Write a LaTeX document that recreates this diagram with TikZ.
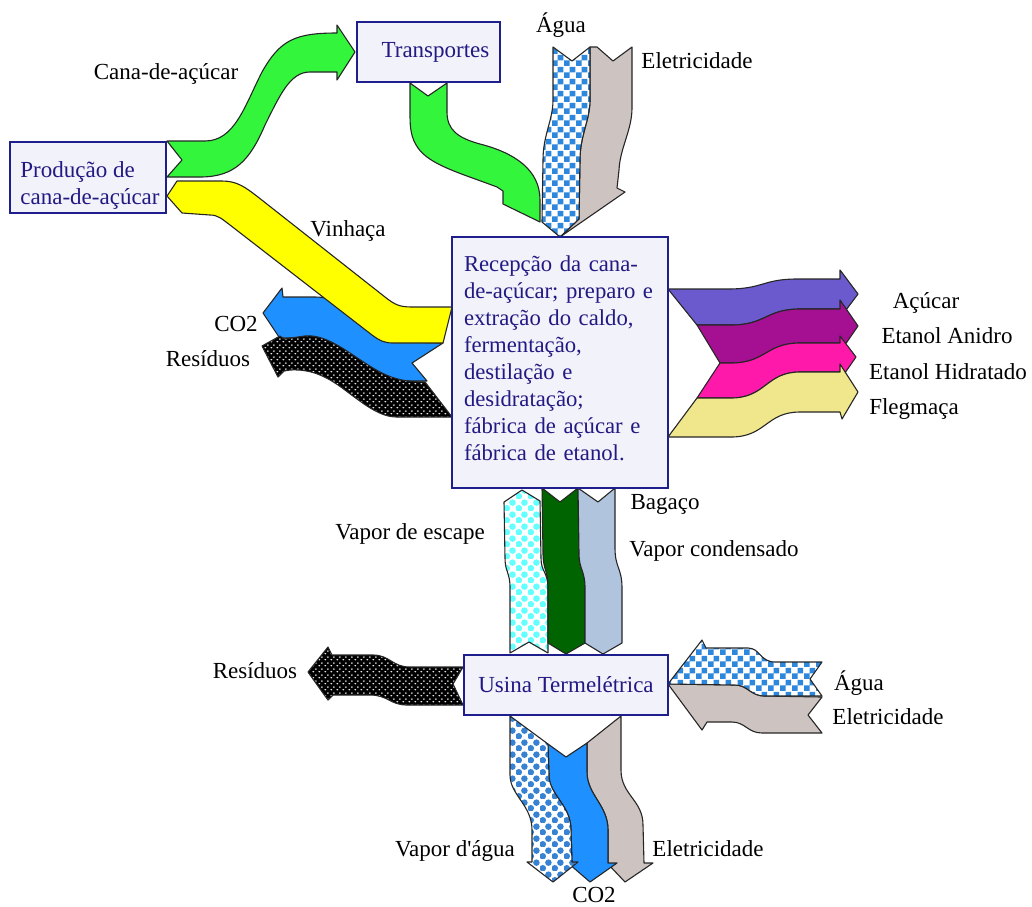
\documentclass[tikz,border=0pt]{standalone}
\usepackage{fontspec}
\setmainfont{Liberation Serif}
\usetikzlibrary{patterns}

\definecolor{boxfill}{RGB}{242,242,250}
\definecolor{boxline}{RGB}{30,30,140}
\definecolor{boxtext}{RGB}{35,25,130}
\definecolor{cane}{RGB}{50,245,60}
\definecolor{vinasse}{RGB}{255,255,0}
\definecolor{cotwo}{RGB}{30,144,255}
\definecolor{sugar}{RGB}{106,90,205}
\definecolor{anhyd}{RGB}{165,15,145}
\definecolor{hydra}{RGB}{255,25,170}
\definecolor{phleg}{RGB}{240,230,140}
\definecolor{bagasse}{RGB}{0,100,0}
\definecolor{condens}{RGB}{176,196,222}
\definecolor{power}{RGB}{205,196,194}
\definecolor{waterblue}{RGB}{45,135,220}
\definecolor{steamcyan}{RGB}{100,255,255}
\definecolor{vapourblue}{RGB}{55,130,210}

% fill patterns for the textured flows
\pgfdeclarepatternformonly{bigchecker}{\pgfqpoint{0pt}{0pt}}{\pgfqpoint{12pt}{12pt}}{\pgfqpoint{12pt}{12pt}}{%
  \pgfpathrectangle{\pgfqpoint{0pt}{0pt}}{\pgfqpoint{6pt}{6pt}}%
  \pgfpathrectangle{\pgfqpoint{6pt}{6pt}}{\pgfqpoint{6pt}{6pt}}%
  \pgfusepath{fill}}
\pgfdeclarepatternformonly{bubbles}{\pgfqpoint{0pt}{0pt}}{\pgfqpoint{12pt}{12pt}}{\pgfqpoint{12pt}{12pt}}{%
  \pgfpathcircle{\pgfqpoint{3pt}{3pt}}{3.5pt}%
  \pgfpathcircle{\pgfqpoint{9pt}{9pt}}{3.5pt}%
  \pgfusepath{fill}}
\pgfdeclarepatternformonly{finedots}{\pgfqpoint{0pt}{0pt}}{\pgfqpoint{6pt}{6pt}}{\pgfqpoint{6pt}{6pt}}{%
  \pgfpathellipse{\pgfqpoint{1.5pt}{1.5pt}}{\pgfqpoint{1.2pt}{0pt}}{\pgfqpoint{0pt}{0.8pt}}%
  \pgfpathellipse{\pgfqpoint{4.5pt}{4.5pt}}{\pgfqpoint{1.2pt}{0pt}}{\pgfqpoint{0pt}{0.8pt}}%
  \pgfusepath{fill}}

\begin{document}
\begin{tikzpicture}[x=1pt,y=-1pt,
  every node/.style={font=\fontsize{23pt}{27pt}\selectfont},
  band/.style={draw=black!85, line width=1.1pt, line join=round},
  water/.style={band, preaction={fill=white}, pattern=bigchecker, pattern color=waterblue},
  steamfill/.style={band, preaction={fill=white}, pattern=bubbles, pattern color=steamcyan},
  vapourfill/.style={band, preaction={fill=white}, pattern=bubbles, pattern color=vapourblue},
  dotsfill/.style={band, preaction={fill=black}, pattern=finedots, pattern color=white},
  box/.style={draw=boxline, line width=1.6pt, fill=boxfill, text=boxtext, inner sep=0pt},
  boxtxt/.style={text=boxtext, inner sep=0pt, align=left},
  lbl/.style={anchor=base, inner sep=0pt, text=black}]
\useasboundingbox (0,0) rectangle (1032,906);

% ---- cane to transport
\draw[band, fill=cane] (167,141) -- (205,141) .. controls (235,141) and (245,105) .. (262,72)
  .. controls (280,40) and (295,33) .. (337,33) -- (337,25) -- (355,52) -- (337,80) -- (337,72)
  -- (310,72) .. controls (290,72) and (280,95) .. (265,125) .. controls (250,160) and (235,177) .. (200,177)
  -- (167,177) -- (182,160) -- cycle;

% ---- transport to reception
\draw[band, fill=cane] (410,83) -- (428,96) -- (447,83) -- (447,112) .. controls (447,130) and (458,138) .. (480,144)
  .. controls (515,153) and (540,170) .. (540,200) -- (540,222) -- (503,204) -- (503,191) -- (497,187)
  .. controls (460,173) and (430,165) .. (418,148) .. controls (411,138) and (410,128) .. (410,115) -- cycle;

% ---- water and electricity into reception
\draw[band, fill=power] (590,47) -- (597,47) -- (613,61) -- (632,47) -- (632,108) .. controls (632,130) and (620,148) .. (619,170)
  -- (617,188) -- (625,192) -- (560,237) -- (579,219) -- (580,160) .. controls (580,135) and (590,120) .. (590,100) -- cycle;
\draw[water] (553,47) -- (572,61) -- (590,47) -- (590,100) .. controls (590,120) and (580,135) .. (580,160)
  -- (579,219) -- (560,237) -- (542,222) -- (543,160) .. controls (543,135) and (553,120) .. (553,100) -- cycle;

% ---- CO2 and residues leaving on the left
\draw[band, fill=cotwo] (263,313) -- (282,288) -- (283,297) -- (315,297) .. controls (340,297) and (360,312) .. (385,330)
  .. controls (400,340) and (410,343) .. (443,343) -- (412,363) -- (427,381) -- (397,381)
  .. controls (380,381) and (362,366) .. (345,354) .. controls (325,341) and (312,338) .. (295,338) -- (283,338) -- (281,340) -- cycle;
\draw[dotsfill] (262,346) -- (280,336) -- (284,339) -- (305,336) .. controls (325,334) and (345,350) .. (365,363)
  .. controls (385,376) and (398,382) .. (425,382) -- (452,417) -- (397,417) .. controls (380,417) and (365,405) .. (345,390)
  .. controls (325,375) and (310,369) .. (290,370) -- (284,371) -- (278,377) -- cycle;

% ---- vinasse back to the fields
\draw[band, fill=vinasse] (167,196) -- (177,181) -- (222,181) .. controls (237,181) and (245,187) .. (258,197)
  -- (385,297) .. controls (395,305) and (400,307) .. (412,307) -- (452,307) -- (443,343) -- (393,343)
  .. controls (385,343) and (380,341) .. (372,335) -- (230,225) .. controls (222,219) and (218,215) .. (210,215)
  -- (182,213) -- cycle;

% ---- products on the right
\draw[band, fill=sugar] (668,289) -- (728,289) .. controls (763,289) and (763,279) .. (797,279) -- (840,279) -- (840,270)
  -- (858,294) -- (840,318) -- (840,309) -- (800,309) .. controls (766,309) and (766,325) .. (731,325) -- (697,325) -- cycle;
\draw[band, fill=anhyd] (697,325) -- (731,325) .. controls (766,325) and (766,309) .. (800,309) -- (840,309) -- (840,300)
  -- (858,326) -- (840,352) -- (840,343) -- (800,343) .. controls (766,343) and (766,363) .. (731,363) -- (720,363) -- cycle;
\draw[band, fill=hydra] (720,363) -- (731,363) .. controls (766,363) and (766,343) .. (800,343) -- (840,343) -- (840,336)
  -- (856,357) -- (840,380) -- (840,372) -- (800,372) .. controls (766,372) and (766,398) .. (731,398) -- (697,398) -- cycle;
\draw[band, fill=phleg] (697,398) -- (731,398) .. controls (766,398) and (766,372) .. (800,372) -- (840,372) -- (840,364)
  -- (858,392) -- (842,419) -- (840,412) -- (800,412) .. controls (766,412) and (766,437) .. (731,437) -- (668,437) -- cycle;

% ---- flows between reception and the power plant
\draw[steamfill] (522,490) -- (540,501) -- (541,558) .. controls (541,572) and (548,572) .. (548,588) -- (548,653)
  -- (529,642) -- (510,653) -- (510,588) .. controls (510,572) and (505,572) .. (505,558) -- (504,502) -- cycle;
\draw[band, fill=bagasse] (542,488) -- (560,502) -- (578,488) -- (579,553) .. controls (579,570) and (585,570) .. (585,588)
  -- (585,643) -- (566,654) -- (548,643) -- (548,588) .. controls (548,570) and (543,570) .. (543,553) -- cycle;
\draw[band, fill=condens] (578,488) -- (598,502) -- (615,488) -- (615,548) .. controls (615,568) and (622,568) .. (622,588)
  -- (622,643) -- (603,654) -- (585,643) -- (585,588) .. controls (585,570) and (579,570) .. (579,553) -- cycle;

% ---- power plant residues
\draw[dotsfill] (308,672) -- (328,647) -- (332,655) -- (373,655) .. controls (390,655) and (392,667) .. (410,667)
  -- (463,667) -- (453,684) -- (463,705) -- (407,705) .. controls (390,705) and (388,695) .. (370,695)
  -- (333,695) -- (328,700) -- cycle;

% ---- water and electricity into the power plant
\draw[band, fill=power] (668,684) -- (735,685) .. controls (748,685) and (750,696) .. (765,696) -- (822,697) -- (808,715)
  -- (822,733) -- (762,733) .. controls (748,733) and (745,722) .. (732,722) -- (707,722) -- (702,730) -- cycle;
\draw[water] (668,684) -- (702,640) -- (706,648) -- (748,648) .. controls (760,648) and (760,662) .. (775,662)
  -- (822,662) -- (810,679) -- (822,696) -- (765,696) .. controls (750,696) and (748,685) .. (735,685) -- cycle;

% ---- power plant outputs
\draw[band, fill=power] (587,743) -- (621,716) -- (621,770) .. controls (621,795) and (643,800) .. (643,825)
  -- (644,863) -- (653,863) -- (625,882) -- (608,864) -- (608,830) .. controls (608,805) and (587,795) .. (587,772) -- cycle;
\draw[band, fill=cotwo] (548,744) -- (566,757) -- (587,743) -- (587,772) .. controls (587,795) and (608,805) .. (608,830)
  -- (608,863) -- (617,863) -- (590,882) -- (568,863) -- (572,862) -- (571,830) .. controls (571,805) and (549,795) .. (549,775) -- cycle;
\draw[vapourfill] (510,716) -- (548,744) -- (549,775) .. controls (549,795) and (571,805) .. (571,830) -- (572,862)
  -- (578,862) -- (553,882) -- (527,862) -- (532,862) -- (532,830) .. controls (532,805) and (510,795) .. (510,775) -- cycle;

% ---- process boxes
\node[box, minimum width=143, minimum height=60] (transp) at (428.5,52) {\hspace*{14pt}Transportes};
\node[box, minimum width=156, minimum height=71] (prod) at (88,177.5) {};
\node[boxtxt] (prodtxt) at (90,185.5) {Produção de\\cana-de-açúcar};
\node[box, minimum width=216, minimum height=251] (proc) at (560,362.5) {};
\node[boxtxt, text width=192, font=\fontsize{22.7pt}{27pt}\selectfont] (proctxt) at (560,358.5)
  {Recepção da cana-\\de-açúcar; preparo e\\extração do caldo,\\fermentação,\\destilação e\\desidratação;\\fábrica de açúcar e\\fábrica de etanol.};
\node[box, minimum width=204, minimum height=60] (usina) at (566,685) {Usina Termelétrica};

% ---- flow labels
\node[lbl] (lcane) at (166,79) {Cana-de-açúcar};
\node[lbl] (lwat1) at (561,32) {Água};
\node[lbl] (lele1) at (697,68) {Eletricidade};
\node[lbl] (lvin) at (348,236) {Vinhaça};
\node[lbl] (lco1) at (236,331) {CO2};
\node[lbl] (lres1) at (208,366) {Resíduos};
\node[lbl] (lsug) at (926,308) {Açúcar};
\node[lbl] (lanh) at (947,343) {Etanol Anidro};
\node[lbl] (lhyd) at (948,379) {Etanol Hidratado};
\node[lbl] (lphl) at (914,414) {Flegmaça};
\node[lbl] (lbag) at (665,509) {Bagaço};
\node[lbl] (lesc) at (410,539) {Vapor de escape};
\node[lbl] (lcond) at (714,556) {Vapor condensado};
\node[lbl] (lres2) at (255,678) {Resíduos};
\node[lbl] (lwat2) at (859,690) {Água};
\node[lbl] (lele2) at (888,724) {Eletricidade};
\node[lbl] (lele3) at (708,856) {Eletricidade};
\node[lbl] (lvap) at (455,856) {Vapor d\textquotesingle água};
\node[lbl] (lco2) at (594,902) {CO2};
\end{tikzpicture}
\end{document}
